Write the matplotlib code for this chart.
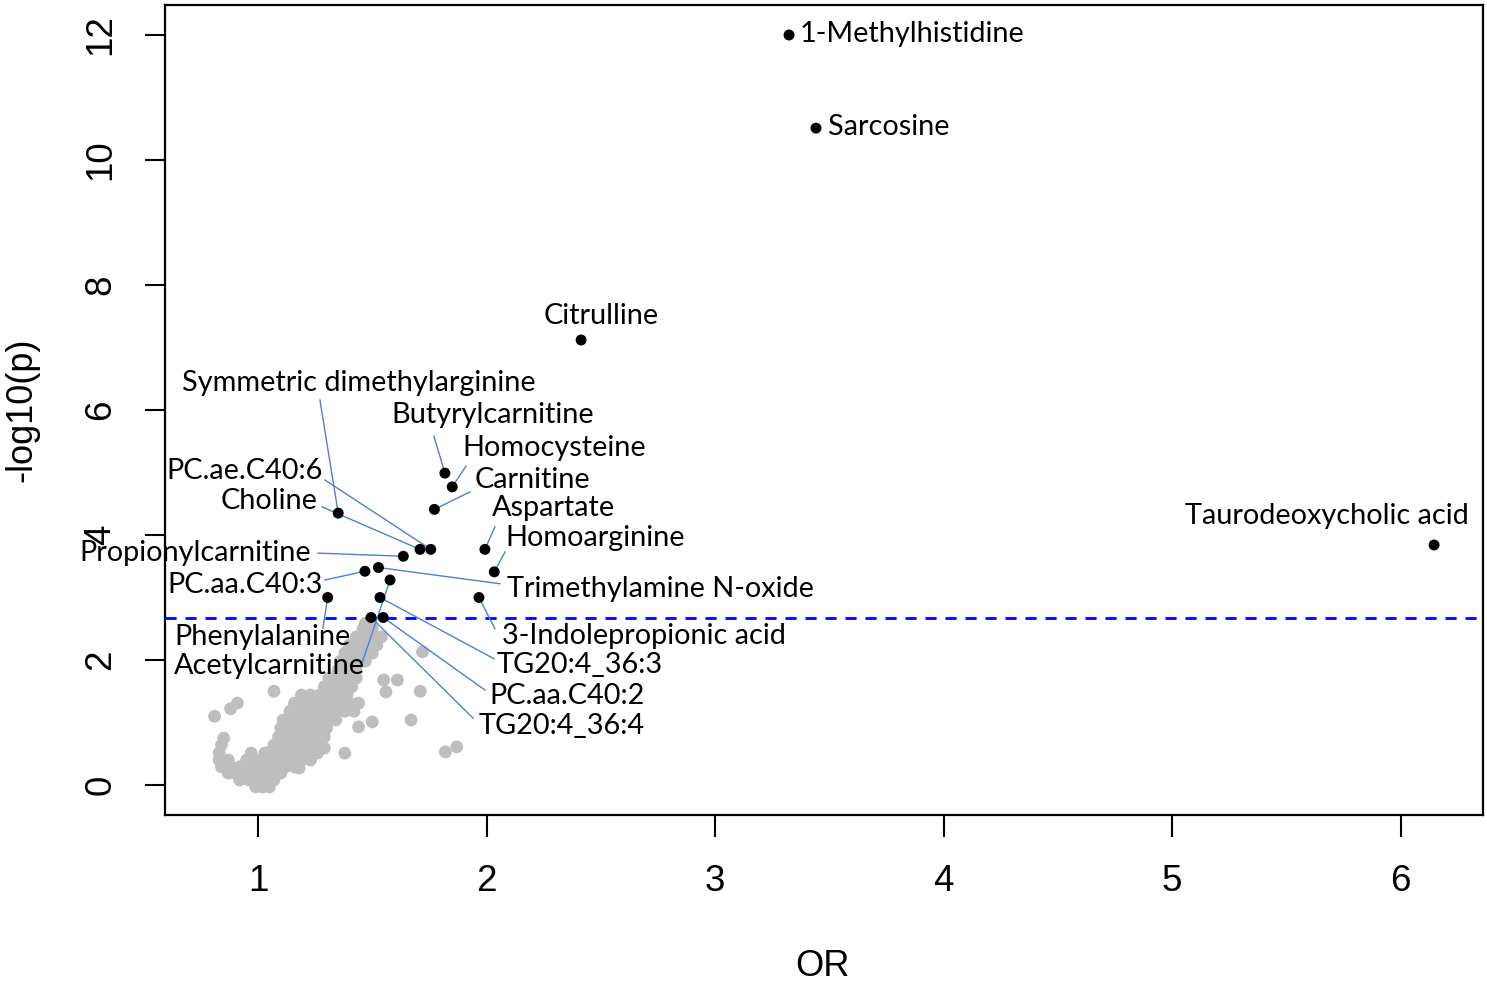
import matplotlib
matplotlib.use("Agg")
import matplotlib.pyplot as plt

# ---------------- data ----------------
metabolites = ["1-Methylhistidine", "Sarcosine", "Citrulline", "Taurodeoxycholic acid",
               "Symmetric dimethylarginine", "Butyrylcarnitine", "Homocysteine", "Carnitine",
               "PC.ae.C40:6", "Choline", "Aspartate", "Homoarginine", "Propionylcarnitine",
               "PC.aa.C40:3", "Trimethylamine N-oxide", "Acetylcarnitine", "Phenylalanine",
               "3-Indolepropionic acid", "TG20:4_36:3", "PC.aa.C40:2", "TG20:4_36:4"]
sig_or = [3.324, 3.442, 2.414, 6.147,
          1.351, 1.818, 1.850, 1.772,
          1.756, 1.709, 1.993, 2.034, 1.636,
          1.468, 1.527, 1.578, 1.305,
          1.967, 1.534, 1.548, 1.495]
sig_logp = [12.00, 10.51, 7.12, 3.84,
            4.35, 4.99, 4.77, 4.41,
            3.77, 3.77, 3.77, 3.41, 3.66,
            3.42, 3.48, 3.28, 3.00,
            3.00, 3.00, 2.68, 2.68]

threshold = 2.67

# non-significant metabolites (grey)
bg_or = [0.99, 1.02, 1.05,
         0.92, 0.96, 1.00, 1.04, 1.07,
         0.87, 0.90, 0.94, 0.98, 1.02, 1.06, 1.10,
         0.84, 0.88, 0.92, 0.96, 1.00, 1.04, 1.08, 1.12, 1.16,
         0.83, 0.87, 0.95, 0.99, 1.03, 1.07, 1.11, 1.15, 1.19, 1.23,
         0.83, 0.97, 1.03, 1.07, 1.11, 1.15, 1.19, 1.23, 1.26,
         0.84, 1.07, 1.11, 1.15, 1.19, 1.23, 1.26,
         1.09, 1.13, 1.17, 1.21, 1.25, 1.29,
         1.10, 1.14, 1.18, 1.22, 1.26, 1.30,
         1.11, 1.15, 1.19, 1.23, 1.27, 1.31, 1.34,
         1.14, 1.18, 1.22, 1.26, 1.30, 1.34, 1.38, 1.42,
         1.16, 1.20, 1.24, 1.28, 1.32, 1.36, 1.40, 1.44,
         1.19, 1.23, 1.27, 1.31, 1.35, 1.39,
         1.29, 1.33, 1.37, 1.41,
         1.31, 1.35, 1.39, 1.43,
         1.35, 1.39, 1.43,
         1.36, 1.40, 1.44, 1.47,
         1.38, 1.42, 1.46, 1.50,
         1.40, 1.44, 1.48, 1.52,
         1.43, 1.47, 1.51, 1.54,
         1.46, 1.50,
         1.47,
         1.07, 0.91, 0.88, 0.81, 0.85, 1.05, 1.38, 1.29, 1.21, 1.18,
         1.50, 1.44, 1.55, 1.61, 1.56, 1.71, 1.72, 1.67, 1.82, 1.87]
bg_logp = [-0.03, -0.03, -0.03,
           0.08, 0.08, 0.08, 0.08, 0.08,
           0.19, 0.19, 0.19, 0.19, 0.19, 0.19, 0.19,
           0.29, 0.29, 0.29, 0.29, 0.29, 0.29, 0.29, 0.29, 0.29,
           0.40, 0.40, 0.40, 0.40, 0.40, 0.40, 0.40, 0.40, 0.40, 0.40,
           0.51, 0.51, 0.51, 0.51, 0.51, 0.51, 0.51, 0.51, 0.51,
           0.64, 0.64, 0.64, 0.64, 0.64, 0.64, 0.64,
           0.77, 0.77, 0.77, 0.77, 0.77, 0.77,
           0.91, 0.91, 0.91, 0.91, 0.91, 0.91,
           1.04, 1.04, 1.04, 1.04, 1.04, 1.04, 1.04,
           1.18, 1.18, 1.18, 1.18, 1.18, 1.18, 1.18, 1.18,
           1.31, 1.31, 1.31, 1.31, 1.31, 1.31, 1.31, 1.31,
           1.44, 1.44, 1.44, 1.44, 1.44, 1.44,
           1.57, 1.57, 1.57, 1.57,
           1.71, 1.71, 1.71, 1.71,
           1.84, 1.84, 1.84,
           1.98, 1.98, 1.98, 1.98,
           2.11, 2.11, 2.11, 2.11,
           2.24, 2.24, 2.24, 2.24,
           2.37, 2.37, 2.37, 2.37,
           2.50, 2.50,
           2.59,
           1.50, 1.31, 1.22, 1.10, 0.75, 0.53, 0.51, 0.59, 0.43, 0.27,
           1.01, 0.93, 1.68, 1.68, 1.49, 1.50, 2.13, 1.04, 0.53, 0.61]

x_ticks = [1, 2, 3, 4, 5, 6]
y_ticks = [0, 2, 4, 6, 8, 10, 12]

# ---------------- layout (label text positions and connector anchors) ----------------
# (text x, text y, ha, connector start x, connector start y or None)
label_layout = {
    "1-Methylhistidine": (3.372, 12.02, "left", None, None),
    "Sarcosine": (3.494, 10.53, "left", None, None),
    "Citrulline": (2.503, 7.50, "center", None, None),
    "Taurodeoxycholic acid": (5.676, 4.30, "center", None, None),
    "Symmetric dimethylarginine": (1.440, 6.43, "center", 1.271, 6.16),
    "Butyrylcarnitine": (2.028, 5.92, "center", 1.770, 5.58),
    "Homocysteine": (2.298, 5.39, "center", 1.910, 5.10),
    "Carnitine": (2.201, 4.88, "center", 1.928, 4.69),
    "PC.ae.C40:6": (0.943, 5.02, "center", 1.293, 4.88),
    "Choline": (1.050, 4.54, "center", 1.280, 4.45),
    "Aspartate": (2.291, 4.43, "center", 2.037, 4.13),
    "Homoarginine": (2.477, 3.95, "center", 2.081, 3.73),
    "Propionylcarnitine": (0.726, 3.71, "center", 1.263, 3.71),
    "PC.aa.C40:3": (0.943, 3.20, "center", 1.293, 3.28),
    "Trimethylamine N-oxide": (2.761, 3.14, "center", 2.059, 3.22),
    "Acetylcarnitine": (1.048, 1.90, "center", 1.455, 1.95),
    "Phenylalanine": (1.018, 2.37, "center", 1.284, 2.51),
    "3-Indolepropionic acid": (2.691, 2.38, "center", 2.037, 2.50),
    "TG20:4_36:3": (2.407, 1.92, "center", 2.033, 2.02),
    "PC.aa.C40:2": (2.354, 1.42, "center", 1.993, 1.52),
    "TG20:4_36:4": (2.328, 0.94, "center", 1.941, 1.07),
}

W, H = 1487, 982
fig = plt.figure(figsize=(W / 100, H / 100), dpi=100)
ax = fig.add_axes([165 / W, 1 - 815 / H, (1483 - 165) / W, (815 - 5) / H])

ax.scatter(bg_or, bg_logp, s=85, color="#bebebe", edgecolors="none", zorder=2)
ax.axhline(threshold, color="#0000ff", lw=2.0, ls=(0, (4, 3.2)), zorder=3)

for name, xo, yo in zip(metabolites, sig_or, sig_logp):
    tx, ty, ha, lx, ly = label_layout[name]
    if lx is not None:
        ax.plot([lx, xo], [ly, yo], color="#4f7fd6", lw=1.0, zorder=4)
    ax.text(tx, ty, name, ha=ha, va="center", fontsize=20.8, family="Lato",
            color="black", zorder=6)

ax.scatter(sig_or, sig_logp, s=62, color="black", edgecolors="none", zorder=5)

ax.set_xlim(0.593, 6.361)
ax.set_ylim(-0.48, 12.48)
ax.set_xticks(x_ticks)
ax.set_yticks(y_ticks)
ax.set_xticklabels([str(v) for v in x_ticks], fontsize=26.5, family="Liberation Sans")
ax.set_yticklabels([str(v) for v in y_ticks], fontsize=26.5, family="Liberation Sans",
                   rotation=90, va="center")
ax.tick_params(axis="x", length=16, width=1.5, pad=19)
ax.tick_params(axis="y", length=14.5, width=1.5, pad=19)
for sp in ax.spines.values():
    sp.set_linewidth(1.6)

fig.text(822 / W, 1 - 967 / H, "OR", ha="center", va="center", fontsize=26,
         family="Liberation Sans")
fig.text(22 / W, 1 - 410 / H, "-log10(p)", ha="center", va="center", fontsize=26,
         family="Liberation Sans", rotation=90)

fig.savefig("out.png", dpi=100)
